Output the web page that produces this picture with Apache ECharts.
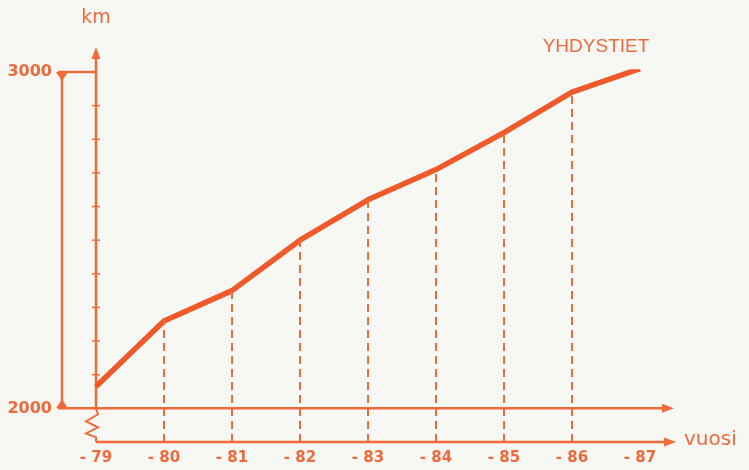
<!DOCTYPE html>
<html>
<head>
<meta charset="utf-8">
<script src="https://cdn.jsdelivr.net/npm/echarts@6/dist/echarts.min.js"></script>
<style>
  html, body { margin: 0; padding: 0; background: #f7f7f4; }
</style>
</head>
<body>
<div id="main" style="width: 749px;height: 470px"></div>

<script type="text/javascript">
    // vuodet ja tiepituudet (km)
    var categories = ['- 79', '- 80', '- 81', '- 82', '- 83', '- 84', '- 85', '- 86', '- 87'];
    var km = [2065, 2260, 2350, 2500, 2620, 2710, 2820, 2940, 3010];
    var yLabels = [2000, 3000];
    var yTicks = [2100, 2200, 2300, 2400, 2500, 2600, 2700, 2800, 2900];

    var lineColor = '#ef5a2a';
    var axisColor = '#f06b3b';
    var textColor = '#ee6a3c';

    var myChart = echarts.init(document.getElementById('main'));

    var option = {
        backgroundColor: '#f7f7f4',
        animation: false,
        grid: { left: 96, right: 109, top: 72, bottom: 28 },
        xAxis: {
            type: 'category',
            boundaryGap: false,
            data: categories,
            axisLine: { show: false },
            axisTick: { show: false },
            splitLine: { show: false },
            axisLabel: {
                color: textColor, fontSize: 15, fontWeight: 'bold',
                fontFamily: 'DejaVu Sans', margin: 9
            }
        },
        yAxis: {
            type: 'value',
            min: 1900,
            max: 3000,
            interval: 100,
            axisLine: { show: false },
            axisTick: { show: false },
            splitLine: { show: false },
            axisLabel: {
                color: textColor, fontSize: 16, fontWeight: 'bold',
                fontFamily: 'DejaVu Sans', margin: 44,
                formatter: function (v) {
                    return yLabels.indexOf(v) >= 0 ? String(v) : '';
                }
            }
        },
        series: [{
            name: 'YHDYSTIET',
            type: 'line',
            data: km,
            symbol: 'none',
            lineStyle: { color: lineColor, width: 5.5 },
            markLine: {
                silent: true,
                symbol: ['none', 'none'],
                label: { show: false },
                lineStyle: { color: axisColor, width: 2, type: [8, 5] },
                data: km.slice(1).map(function (v, i) {
                    return [{ coord: [i + 1, 1900] }, { coord: [i + 1, v] }];
                })
            }
        }]
    };

    myChart.setOption(option);

    // akselit, nuolet ja tekstit
    var p = function (i, v) { return myChart.convertToPixel({ gridIndex: 0 }, [i, v]); };
    var o = p(0, 2000);       // y-akselin alkukohta
    var ptTop = p(0, 3000);
    var ptLow = p(0, 1900);   // alempi vuosiakseli
    var ptLast = p(categories.length - 1, 2000);
    var ax = o[0], y2000 = o[1], y3000 = ptTop[1], yLow = ptLow[1];
    var xEnd = ptLast[0] + 32;
    var st = { stroke: axisColor, lineWidth: 2.5 };
    var fill = { fill: axisColor };

    var g = [];
    // y-akseli ja nuoli
    g.push({ type: 'line', shape: { x1: ax, y1: y2000, x2: ax, y2: y3000 - 16 }, style: st });
    g.push({ type: 'polygon', shape: { points: [[ax, y3000 - 25], [ax - 4.5, y3000 - 13], [ax + 4.5, y3000 - 13]] }, style: fill });
    // katkoviiva (siksak)
    g.push({ type: 'polyline', shape: { points: [[ax, y2000], [ax + 2, y2000 + 6], [ax - 10, y2000 + 13], [ax + 2, y2000 + 19], [ax - 10, y2000 + 25], [ax, y2000 + 29], [ax, yLow]] }, style: { stroke: axisColor, lineWidth: 2, fill: null } });
    // 2000-viiva ja nuoli
    g.push({ type: 'line', shape: { x1: 58, y1: y2000, x2: xEnd - 8, y2: y2000 }, style: st });
    g.push({ type: 'polygon', shape: { points: [[xEnd + 2, y2000], [xEnd - 10, y2000 - 4.5], [xEnd - 10, y2000 + 4.5]] }, style: fill });
    // alempi vuosiakseli ja nuoli
    g.push({ type: 'line', shape: { x1: ax, y1: yLow, x2: xEnd - 6, y2: yLow }, style: st });
    g.push({ type: 'polygon', shape: { points: [[xEnd + 4, yLow], [xEnd - 8, yLow - 4.5], [xEnd - 8, yLow + 4.5]] }, style: fill });
    // vasen mittaviiva 2000-3000
    g.push({ type: 'line', shape: { x1: 58, y1: y3000, x2: ax, y2: y3000 }, style: st });
    g.push({ type: 'line', shape: { x1: 62, y1: y3000, x2: 62, y2: y2000 }, style: st });
    g.push({ type: 'polygon', shape: { points: [[56, y3000], [68, y3000], [62, y3000 + 9]] }, style: fill });
    g.push({ type: 'polygon', shape: { points: [[56, y2000], [68, y2000], [62, y2000 - 9]] }, style: fill });
    // y-akselin väliviivat
    yTicks.forEach(function (v) {
        var y = p(0, v)[1];
        g.push({ type: 'line', shape: { x1: ax - 4, y1: y, x2: ax + 4, y2: y }, style: { stroke: axisColor, lineWidth: 1.5 } });
    });
    // tekstit
    var endPt = p(categories.length - 1, km[km.length - 1]);
    g.push({ type: 'text', x: ax, y: 18, style: { text: 'km', fill: textColor, font: '19px "DejaVu Sans"', align: 'center', verticalAlign: 'middle' } });
    g.push({ type: 'text', x: xEnd + 12, y: yLow - 2, style: { text: 'vuosi', fill: textColor, font: '20px "DejaVu Sans"', align: 'left', verticalAlign: 'middle' } });
    g.push({ type: 'text', x: endPt[0] - 44, y: 47, style: { text: 'YHDYSTIET', fill: textColor, font: '19px "Liberation Sans"', align: 'center', verticalAlign: 'middle' } });

    myChart.setOption({ graphic: g });
</script>
</body>
</html>
